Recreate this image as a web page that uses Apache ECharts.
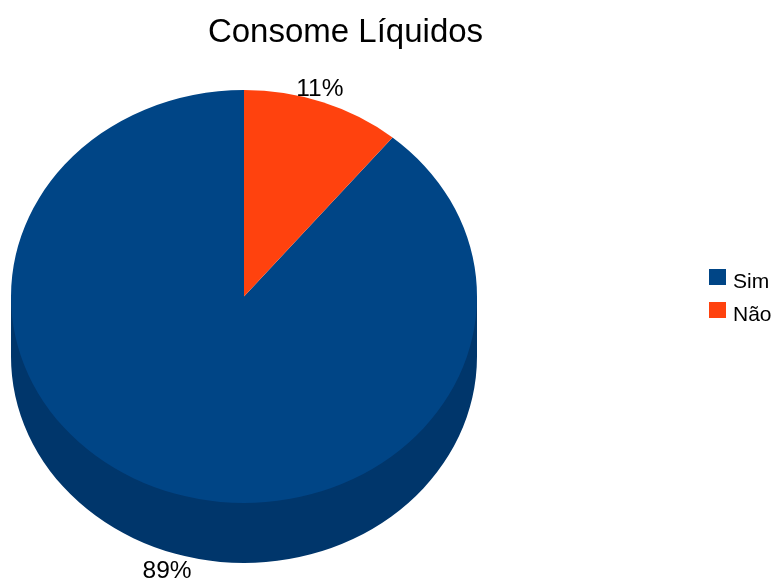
<!DOCTYPE html>
<html>
<head>
<meta charset="utf-8">
<style>html,body{margin:0;padding:0;background:#fff}#chart{width:776px;height:580px}</style>
<script src="https://cdn.jsdelivr.net/npm/echarts@6/dist/echarts.min.js"></script>
</head>
<body>
<div id="chart"></div>
<script>
// Share of respondents per answer, and the order the slices run clockwise from 12 o'clock.
const categories = ['Sim', 'Não'];
const shares = [89, 11];
const topColors = ['#004586', '#ff420e'];
const sideColors = ['#00366b', '#c9330b'];
const sliceOrder = [1, 0];

// Tilted-disc geometry.
const CX = 244, CY = 296.5, RX = 233, RY = 206.5, DEPTH = 60;
const total = shares.reduce((a, b) => a + b, 0);

// Start and end angle (clockwise from the top) of each category.
const spans = {};
let run = 0;
sliceOrder.forEach(i => {
  const start = run / total * Math.PI * 2;
  run += shares[i];
  spans[i] = [start, run / total * Math.PI * 2];
});

function ellipseSector(i, offsetY, fill) {
  return {
    type: 'sector',
    x: CX, y: CY + offsetY,
    scaleY: RY / RX,
    shape: {
      cx: 0, cy: 0, r0: 0, r: RX,
      startAngle: spans[i][0] - Math.PI / 2,
      endAngle: spans[i][1] - Math.PI / 2,
      clockwise: true
    },
    style: { fill: fill }
  };
}

function renderSlice(i) {
  return function (params, api) {
    const mid = (spans[i][0] + spans[i][1]) / 2;
    const frontFacing = Math.cos(mid) < 0;
    const children = [];
    if (frontFacing) {
      // Rim of the disc: the slice repeated lower down, plus the band joining both edges.
      children.push(ellipseSector(i, DEPTH, sideColors[i]));
      children.push({
        type: 'rect',
        shape: { x: CX - RX, y: CY, width: RX * 2, height: DEPTH },
        style: { fill: sideColors[i] }
      });
    }
    children.push(ellipseSector(i, 0, topColors[i]));
    children.push({
      type: 'text',
      x: CX + Math.sin(mid) * RX + (frontFacing ? 2 : -3),
      y: CY - Math.cos(mid) * RY + (frontFacing ? DEPTH + 20 : -13),
      z2: 10,
      style: {
        text: api.value(0) + '%',
        fill: '#000',
        font: '24.5px "Liberation Sans", Arial, sans-serif',
        align: 'center',
        verticalAlign: 'middle'
      }
    });
    return { type: 'group', children: children };
  };
}

const chart = echarts.init(document.getElementById('chart'), null, { renderer: 'canvas' });
chart.setOption({
  animation: false,
  backgroundColor: '#ffffff',
  title: {
    text: 'Consome Líquidos',
    left: 340.5, top: 11,
    textAlign: 'center',
    textStyle: { color: '#000', fontSize: 33, fontWeight: 'normal', fontFamily: '"Liberation Sans", Arial, sans-serif' }
  },
  legend: {
    orient: 'vertical',
    left: 704, top: 264,
    itemWidth: 17, itemHeight: 16, itemGap: 9.5,
    icon: 'rect',
    selectedMode: false,
    data: categories,
    formatter: name => '{t|' + name + '}',
    textStyle: {
      rich: {
        t: { color: '#000', fontSize: 21, fontFamily: '"Liberation Sans", Arial, sans-serif', padding: [10, 0, 0, 2] }
      }
    }
  },
  series: sliceOrder.slice().reverse().map(i => ({
    type: 'custom',
    name: categories[i],
    coordinateSystem: 'none',
    silent: true,
    itemStyle: { color: topColors[i] },
    data: [[shares[i]]],
    renderItem: renderSlice(i)
  }))
});
</script>
</body>
</html>
